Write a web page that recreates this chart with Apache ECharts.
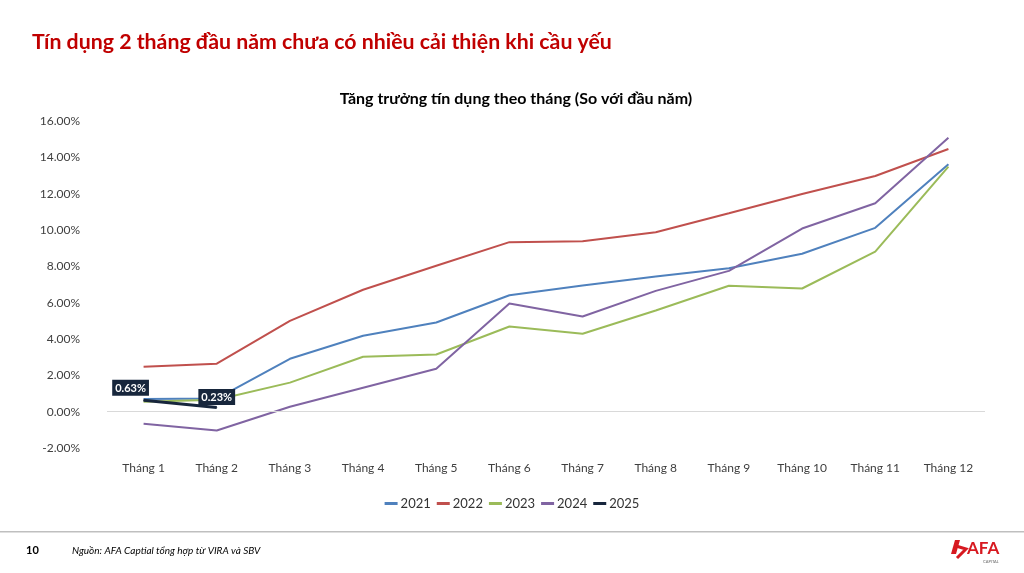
<!DOCTYPE html>
<html>
<head>
<meta charset="utf-8">
<script src="https://cdn.jsdelivr.net/npm/echarts@6/dist/echarts.min.js"></script>
<style>
  html, body { margin: 0; padding: 0; background: #fff; }
  #chart { width: 1024px; height: 573px; }
</style>
</head>
<body>
<div id="chart"></div>
<script>
var months = ['Tháng 1', 'Tháng 2', 'Tháng 3', 'Tháng 4', 'Tháng 5', 'Tháng 6',
              'Tháng 7', 'Tháng 8', 'Tháng 9', 'Tháng 10', 'Tháng 11', 'Tháng 12'];

// % tăng trưởng so với đầu năm
var y2021 = [0.70, 0.72, 2.91, 4.18, 4.91, 6.41, 6.95, 7.44, 7.90, 8.69, 10.12, 13.62];
var y2022 = [2.47, 2.64, 5.00, 6.71, 8.03, 9.33, 9.38, 9.88, 10.92, 11.98, 12.97, 14.46];
var y2023 = [0.55, 0.66, 1.60, 3.02, 3.15, 4.69, 4.29, 5.57, 6.93, 6.78, 8.81, 13.49];
var y2024 = [-0.66, -1.04, 0.27, 1.32, 2.36, 5.96, 5.24, 6.65, 7.75, 10.08, 11.47, 15.08];
var y2025 = [0.63, 0.23];

var font = 'Lato, "Open Sans", sans-serif';

function line(name, data, color, width) {
    return {
        name: name,
        type: 'line',
        data: data,
        symbol: 'none',
        smooth: false,
        lineStyle: { color: color, width: width },
        itemStyle: { color: color }
    };
}

var s2025 = line('2025', y2025, '#17263c', 3);
s2025.z = 5;
s2025.symbol = 'circle';
s2025.symbolSize = 1;
s2025.showSymbol = true;
s2025.label = {
    show: true,
    position: 'top',
    formatter: function (p) { return p.value.toFixed(2) + '%'; },
    backgroundColor: '#17263c',
    color: '#fff',
    fontWeight: 'bold',
    fontSize: 11,
    fontFamily: font,
    padding: [3, 3, 2, 3],
    distance: 4
};
s2025.labelLayout = function (p) {
    return p.dataIndex === 0 ? { dx: -13, dy: 0 } : { dx: 0, dy: 2 };
};

var myChart = echarts.init(document.getElementById('chart'));
myChart.setOption({
    backgroundColor: '#fff',
    animation: false,
    textStyle: { fontFamily: font },
    title: [
        {
            text: 'Tín dụng 2 tháng đầu năm chưa có nhiều cải thiện khi cầu yếu',
            left: 27, top: 27,
            textStyle: { color: '#c00000', fontSize: 21.3, fontWeight: 'bold', fontFamily: font }
        },
        {
            text: 'Tăng trưởng tín dụng theo tháng (So với đầu năm)',
            left: 511, top: 86, textAlign: 'center',
            textStyle: { color: '#000', fontSize: 16, fontWeight: 'bold', fontFamily: font }
        }
    ],
    legend: {
        bottom: 58,
        left: 'center',
        itemWidth: 13,
        itemHeight: 3,
        itemGap: 6,
        icon: 'rect',
        textStyle: { color: '#333', fontSize: 13, fontFamily: font, padding: [0, 0, 0, -2] },
        data: ['2021', '2022', '2023', '2024', '2025']
    },
    grid: { left: 107, right: 39, top: 121, bottom: 125 },
    xAxis: {
        type: 'category',
        data: months,
        boundaryGap: true,
        axisLine: { show: false },
        axisTick: { show: false },
        axisLabel: { color: '#404040', fontSize: 12, margin: 14, fontFamily: font }
    },
    yAxis: {
        type: 'value',
        min: -2,
        max: 16,
        interval: 2,
        axisLine: { show: false },
        axisTick: { show: false },
        splitLine: { show: false },
        axisLabel: {
            color: '#404040', fontSize: 12, margin: 27, fontFamily: font,
            formatter: function (v) { return v.toFixed(2) + '%'; }
        }
    },
    series: [
        line('2021', y2021, '#4f81bd', 2),
        line('2022', y2022, '#c0504d', 2),
        line('2023', y2023, '#9bbb59', 2),
        line('2024', y2024, '#8064a2', 2),
        s2025,
        {
            type: 'line',
            data: [],
            silent: true,
            markLine: {
                symbol: 'none',
                silent: true,
                label: { show: false },
                lineStyle: { color: '#d9d9d9', width: 1, type: 'solid' },
                data: [{ yAxis: 0 }]
            }
        }
    ],
    graphic: [
        { type: 'rect', shape: { x: 0, y: 531, width: 1024, height: 1.5 }, style: { fill: '#bfbfbf' } },
        { type: 'text', left: 26, top: 545, style: { text: '10', fontSize: 11, fontWeight: 'bold', fill: '#000', fontFamily: font } },
        { type: 'text', left: 72, top: 546, style: { text: 'Nguồn: AFA Captial tổng hợp từ VIRA và SBV', fontSize: 10, fontStyle: 'italic', fill: '#000', fontFamily: font } },
        { type: 'polygon', shape: { points: [[955, 540], [960, 540], [956, 554], [951, 554]] }, style: { fill: '#d71920' } },
        { type: 'polyline', shape: { points: [[956, 546], [966, 549], [957, 558]] }, style: { stroke: '#d71920', lineWidth: 3, fill: null } },
        { type: 'text', left: 967, top: 540, style: { text: 'AFA', fontSize: 17, fontWeight: 'bold', fill: '#d71920', fontFamily: font } },
        { type: 'text', left: 983, top: 560, style: { text: 'CAPITAL', fontSize: 4, fill: '#666', fontFamily: font } }
    ]
});
</script>
</body>
</html>
